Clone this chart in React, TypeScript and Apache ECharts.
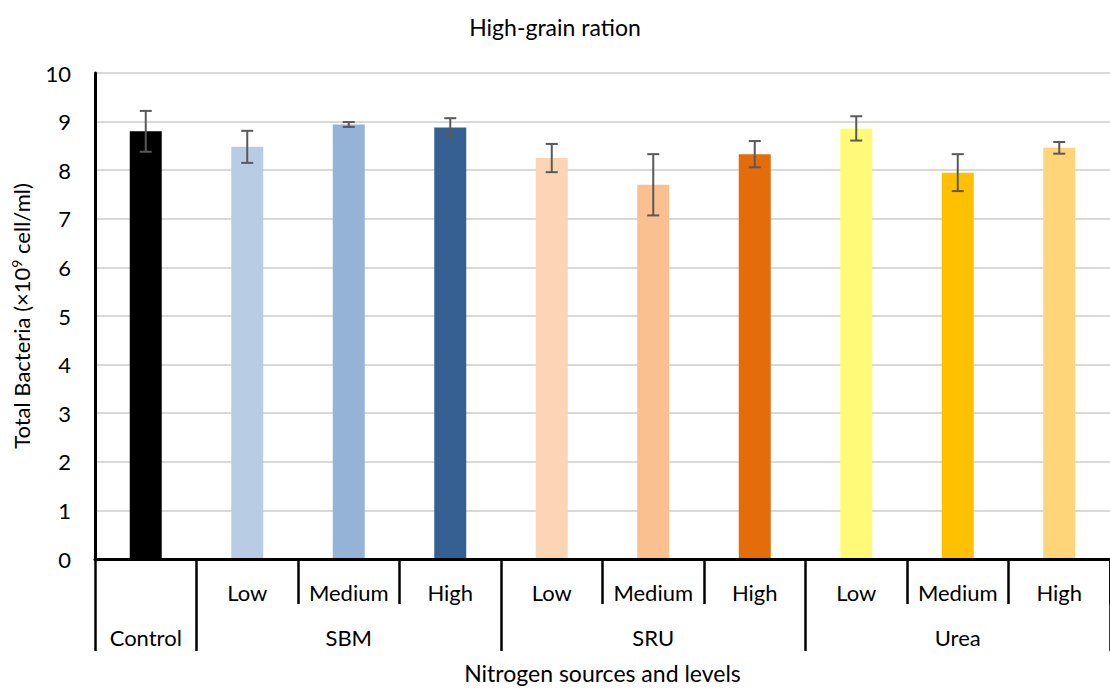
import React, { useEffect, useRef } from "react";
import * as echarts from "echarts";

const levels = ["", "Low", "Medium", "High", "Low", "Medium", "High", "Low", "Medium", "High"];
const groups = ["Control", "", "SBM", "", "", "SRU", "", "", "Urea", ""];
const groupBoundaries = [0, 1, 4, 7, 10];
const levelBoundaries = [2, 3, 5, 6, 8, 9];
const values = [8.8, 8.48, 8.94, 8.88, 8.25, 7.7, 8.33, 8.86, 7.95, 8.46];
const errors = [0.42, 0.33, 0.05, 0.19, 0.29, 0.63, 0.27, 0.25, 0.38, 0.12];
const colors = ["#000000", "#B8CCE4", "#95B3D7", "#366092", "#FCD5B4", "#FAC090", "#E46C0A", "#FFFB78", "#FFC000", "#FFD579"];
const yTicks = [0, 1, 2, 3, 4, 5, 6, 7, 8, 9, 10];

const FONT = "Lato, 'Open Sans', sans-serif";

export default function App() {
  const ref = useRef<HTMLDivElement>(null);
  useEffect(() => {
    if (!ref.current) return;
    const chart = echarts.init(ref.current, null, { renderer: "svg" });
    const errData = values.map((v, i) => [i, v - errors[i], v + errors[i]]);
    chart.setOption({
      animation: false,
      backgroundColor: "#ffffff",
      textStyle: { fontFamily: FONT },
      title: {
        text: "High-grain ration",
        left: "center",
        top: 10,
        textStyle: { fontFamily: FONT, fontSize: 23, fontWeight: "normal", color: "#000" },
      },
      grid: { left: 95, right: -5, top: 73, bottom: 124, containLabel: false },
      xAxis: [
        {
          type: "category",
          data: levels,
          position: "bottom",
          axisLine: { show: true, lineStyle: { color: "#000", width: 3 } },
          axisTick: {
            show: true,
            length: 45,
            lineStyle: { color: "#000", width: 2.5 },
            interval: (idx: number) => levelBoundaries.indexOf(idx) >= 0,
          },
          axisLabel: { interval: 0, margin: 22, fontSize: 22, color: "#000", fontFamily: FONT },
          splitLine: { show: false },
          z: 5,
        },
        {
          type: "category",
          data: groups,
          position: "bottom",
          axisLine: { show: false },
          axisTick: {
            show: true,
            length: 92,
            lineStyle: { color: "#000", width: 2.5 },
            interval: (idx: number) => groupBoundaries.indexOf(idx) >= 0,
          },
          axisLabel: { interval: 0, margin: 67, fontSize: 22, color: "#000", fontFamily: FONT },
          name: "Nitrogen sources and levels",
          nameLocation: "middle",
          nameGap: 102,
          nameTextStyle: { fontSize: 23, color: "#000", fontFamily: FONT },
        },
      ],
      yAxis: {
        type: "value",
        min: yTicks[0],
        max: yTicks[yTicks.length - 1],
        interval: 1,
        axisLine: { show: true, lineStyle: { color: "#000", width: 3 } },
        axisTick: { show: false },
        axisLabel: { fontSize: 22, color: "#000", margin: 24, fontFamily: FONT },
        splitLine: { show: true, lineStyle: { color: "#D9D9D9", width: 2 } },
        name: "Total Bacteria (×10{sup|9} cell/ml)",
        nameLocation: "middle",
        nameRotate: 90,
        nameGap: 62,
        nameTextStyle: {
          fontSize: 22,
          color: "#000",
          fontFamily: FONT,
          lineHeight: 24,
          rich: {
            sup: { fontSize: 14, color: "#000", fontFamily: FONT, verticalAlign: "top", lineHeight: 24, padding: [0, 0, 8, 0] },
          },
        },
      },
      series: [
        {
          type: "bar",
          xAxisIndex: 0,
          barWidth: 32,
          data: values.map((v, i) => ({ value: v, itemStyle: { color: colors[i] } })),
        },
        {
          type: "custom",
          xAxisIndex: 0,
          z: 10,
          data: errData,
          renderItem: (params: any, api: any) => {
            const x = api.value(0);
            const lo = api.coord([x, api.value(1)]);
            const hi = api.coord([x, api.value(2)]);
            const cap = 6;
            const style = { stroke: "#595959", lineWidth: 2 };
            return {
              type: "group",
              children: [
                { type: "line", shape: { x1: lo[0], y1: lo[1], x2: hi[0], y2: hi[1] }, style },
                { type: "line", shape: { x1: hi[0] - cap, y1: hi[1], x2: hi[0] + cap, y2: hi[1] }, style },
                { type: "line", shape: { x1: lo[0] - cap, y1: lo[1], x2: lo[0] + cap, y2: lo[1] }, style },
              ],
            };
          },
        },
      ],
    });
    return () => chart.dispose();
  }, []);
  return (
    <div
      ref={ref}
      style={{ position: "absolute", left: 0, top: 0, width: 1110, height: 689 }}
    />
  );
}
